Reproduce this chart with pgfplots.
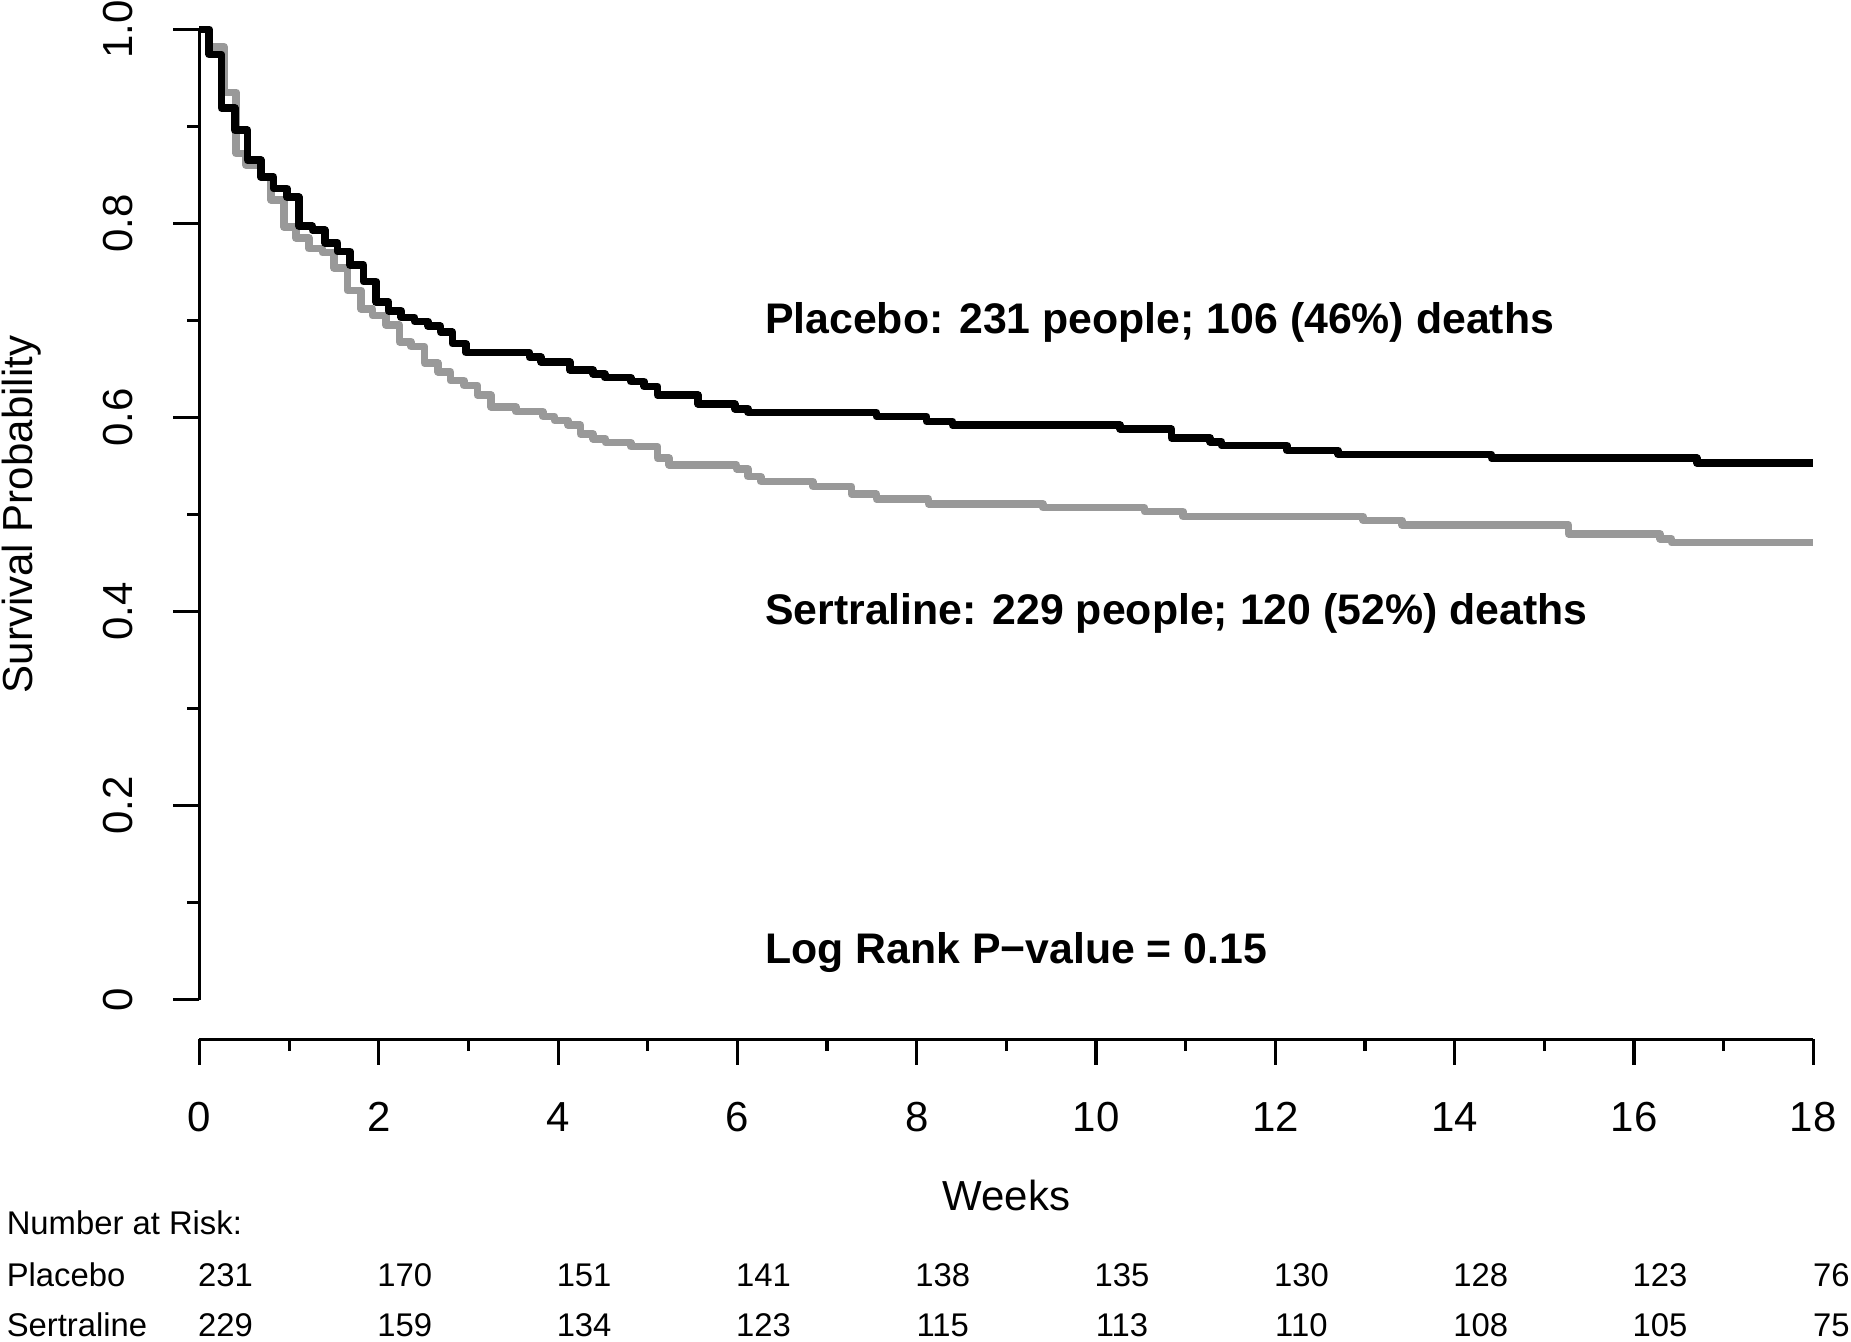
\documentclass[border=0pt]{standalone}
\usepackage{fontspec}
\setmainfont{Liberation Sans}
\usepackage{pgfplots}
\pgfplotsset{compat=1.18}
\definecolor{sertgrey}{RGB}{153,153,153}

\begin{document}
\begin{tikzpicture}[
  lab/.style={font=\fontsize{10.5pt}{12pt}\selectfont, inner sep=0pt},
  risk/.style={font=\fontsize{8.2pt}{10pt}\selectfont, inner sep=0pt},
  ann/.style={font=\fontsize{10.7pt}{13pt}\selectfont\bfseries, inner sep=0pt, anchor=base west},
]
\begin{axis}[
    width=403.4pt,
    height=242.55pt,
    scale only axis,
    xmin=0, xmax=18,
    ymin=0, ymax=1,
    axis lines=none,
    clip=false,
]

% Sertraline
\addplot[const plot, sertgrey, line width=1.9pt, line join=round] coordinates {
(0,1.000) (0.10,0.982) (0.275,0.935) (0.41,0.872) (0.517,0.860) (0.68,0.848)
(0.80,0.824) (0.945,0.796) (1.075,0.785) (1.22,0.774) (1.37,0.770) (1.50,0.754)
(1.65,0.731) (1.80,0.712) (1.93,0.705) (2.08,0.695) (2.23,0.678) (2.36,0.673)
(2.51,0.656) (2.66,0.647) (2.80,0.638) (2.95,0.633) (3.10,0.623) (3.25,0.611)
(3.53,0.606) (3.83,0.601) (3.96,0.597) (4.11,0.592) (4.25,0.583) (4.39,0.578)
(4.53,0.574) (4.81,0.570) (5.11,0.558) (5.24,0.551) (5.99,0.547) (6.12,0.539)
(6.26,0.534) (6.84,0.529) (7.27,0.521) (7.55,0.516) (8.13,0.511) (9.41,0.507)
(10.54,0.503) (10.97,0.498) (12.98,0.494) (13.41,0.489) (15.27,0.480)
(16.29,0.475) (16.42,0.471) (18,0.471)
};

% Placebo
\addplot[const plot, black, line width=1.9pt, line join=round] coordinates {
(0,1.000) (0.108,0.974) (0.245,0.919) (0.394,0.896) (0.536,0.865) (0.685,0.848)
(0.826,0.836) (0.975,0.827) (1.11,0.797) (1.26,0.793) (1.40,0.780) (1.54,0.771)
(1.68,0.757) (1.83,0.740) (1.97,0.719) (2.11,0.710) (2.25,0.703) (2.40,0.699)
(2.55,0.694) (2.69,0.688) (2.82,0.676) (2.97,0.667) (3.68,0.662) (3.81,0.657)
(4.13,0.649) (4.39,0.645) (4.52,0.641) (4.81,0.637) (4.96,0.632) (5.11,0.623)
(5.56,0.614) (5.97,0.609) (6.12,0.605) (7.55,0.601) (8.11,0.596) (8.40,0.592)
(10.27,0.588) (10.84,0.579) (11.27,0.575) (11.40,0.571) (12.13,0.566)
(12.70,0.562) (14.41,0.558) (16.70,0.553) (18,0.553)
};

% y axis, R style
\draw[line width=0.8pt] (axis cs:0,0) -- (axis cs:0,1);
\pgfplotsinvokeforeach{0,0.2,0.4,0.6,0.8,1}{
  \draw[line width=0.8pt] (axis cs:0,#1) -- ++(-6.5pt,0);
}
\pgfplotsinvokeforeach{0.1,0.3,0.5,0.7,0.9}{
  \draw[line width=0.8pt] (axis cs:0,#1) -- ++(-3pt,0);
}
\node[lab, rotate=90] at (axis cs:-0.909,0) {0};
\node[lab, rotate=90] at (axis cs:-0.909,0.2) {0.2};
\node[lab, rotate=90] at (axis cs:-0.909,0.4) {0.4};
\node[lab, rotate=90] at (axis cs:-0.909,0.6) {0.6};
\node[lab, rotate=90] at (axis cs:-0.909,0.8) {0.8};
\node[lab, rotate=90] at (axis cs:-0.909,1) {1.0};
\node[lab, rotate=90] at (axis cs:-1.988,0.5) {Survival Probability};

% x axis, offset below
\draw[line width=0.8pt] (axis cs:0,-0.041) -- (axis cs:18,-0.041);
\pgfplotsinvokeforeach{0,2,...,18}{
  \draw[line width=0.8pt] (axis cs:#1,-0.041) -- ++(0,-6.5pt);
  \node[lab, anchor=base] at (axis cs:#1,-0.1356) {#1};
}
\pgfplotsinvokeforeach{1,3,...,17}{
  \draw[line width=0.8pt] (axis cs:#1,-0.041) -- ++(0,-3pt);
}
\node[lab, anchor=base] at (axis cs:9,-0.217) {Weeks};

% annotations
\node[ann] at (axis cs:6.30,0.687) {Placebo: 231 people; 106 (46\%) deaths};
\node[ann] at (axis cs:6.30,0.3865) {Sertraline: 229 people; 120 (52\%) deaths};
\node[ann] at (axis cs:6.30,0.0373) {Log Rank P−value = 0.15};

% number at risk
\node[risk, anchor=base west] at (axis cs:-2.158,-0.2425) {Number at Risk:};
\node[risk, anchor=base west] at (axis cs:-2.158,-0.2960) {Placebo};
\node[risk, anchor=base west] at (axis cs:-2.158,-0.3475) {Sertraline};
\node[risk, anchor=base] at (axis cs:0.29,-0.2960) {231};
\node[risk, anchor=base] at (axis cs:2.29,-0.2960) {170};
\node[risk, anchor=base] at (axis cs:4.29,-0.2960) {151};
\node[risk, anchor=base] at (axis cs:6.29,-0.2960) {141};
\node[risk, anchor=base] at (axis cs:8.29,-0.2960) {138};
\node[risk, anchor=base] at (axis cs:10.29,-0.2960) {135};
\node[risk, anchor=base] at (axis cs:12.29,-0.2960) {130};
\node[risk, anchor=base] at (axis cs:14.29,-0.2960) {128};
\node[risk, anchor=base] at (axis cs:16.29,-0.2960) {123};
\node[risk, anchor=base] at (axis cs:18.20,-0.2960) {76};
\node[risk, anchor=base] at (axis cs:0.29,-0.3475) {229};
\node[risk, anchor=base] at (axis cs:2.29,-0.3475) {159};
\node[risk, anchor=base] at (axis cs:4.29,-0.3475) {134};
\node[risk, anchor=base] at (axis cs:6.29,-0.3475) {123};
\node[risk, anchor=base] at (axis cs:8.29,-0.3475) {115};
\node[risk, anchor=base] at (axis cs:10.29,-0.3475) {113};
\node[risk, anchor=base] at (axis cs:12.29,-0.3475) {110};
\node[risk, anchor=base] at (axis cs:14.29,-0.3475) {108};
\node[risk, anchor=base] at (axis cs:16.29,-0.3475) {105};
\node[risk, anchor=base] at (axis cs:18.20,-0.3475) {75};

\coordinate (bbsw) at (axis cs:-2.225,-0.352);
\coordinate (bbne) at (axis cs:18.42,1.0302);
\end{axis}
\pgfresetboundingbox
\useasboundingbox (bbsw) rectangle (bbne);
\end{tikzpicture}
\end{document}
